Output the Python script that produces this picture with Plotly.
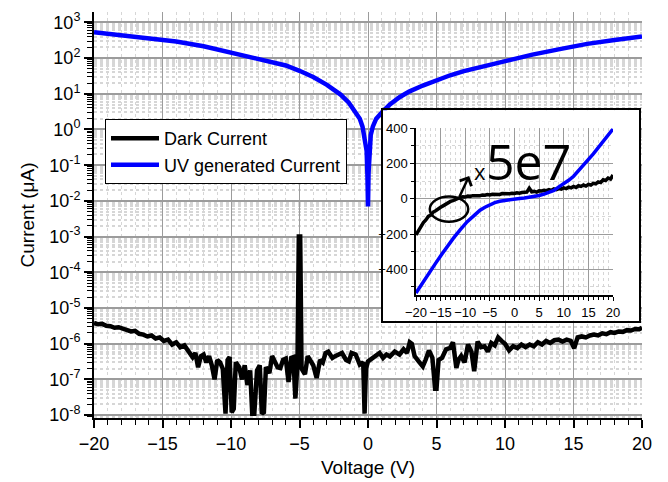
import plotly.graph_objects as go

# ---------------- main chart data (Current in uA vs Voltage in V) ----------------
dark_v = [-20.0, -19.7, -19.4, -19.1, -18.8, -18.5, -18.2, -17.9, -17.6, -17.3, -17.0, -16.7,
          -16.4, -16.1, -15.8, -15.5, -15.2, -14.9, -14.6, -14.3, -14.0, -13.7, -13.4, -13.1,
          -12.8, -12.6, -12.4, -12.2, -12.0, -11.8, -11.6, -11.4, -11.2, -11.0, -10.8, -10.6,
          -10.4, -10.25, -10.1, -9.95, -9.8, -9.65, -9.4, -9.2, -9.0, -8.8, -8.6, -8.45, -8.3,
          -8.1, -7.9, -7.75, -7.6, -7.45, -7.2, -7.0, -6.8, -6.6, -6.4, -6.2, -6.0, -5.8, -5.6,
          -5.45, -5.3, -5.15, -5.05, -4.95, -4.85, -4.6, -4.4, -4.2, -4.0, -3.75, -3.5, -3.3,
          -3.1, -2.9, -2.6, -2.4, -2.1, -1.9, -1.6, -1.4, -1.2, -0.9, -0.6, -0.35, -0.25, -0.15,
          0.0, 0.3, 0.5, 0.85, 1.1, 1.35, 1.6, 1.95, 2.3, 2.6, 2.85, 3.05, 3.2, 3.4, 3.7, 4.0,
          4.2, 4.45, 4.7, 4.9, 5.0, 5.15, 5.4, 5.7, 6.0, 6.2, 6.45, 6.6, 6.8, 7.05, 7.3, 7.55,
          7.75, 8.0, 8.25, 8.5, 8.75, 9.0, 9.25, 9.5, 9.75, 10.0, 10.3, 10.6, 10.9, 11.2, 11.5,
          11.8, 12.1, 12.4, 12.7, 13.0, 13.3, 13.6, 13.9, 14.2, 14.5, 14.8, 15.05, 15.3, 15.6,
          15.9, 16.2, 16.5, 16.8, 17.1, 17.4, 17.7, 18.0, 18.3, 18.6, 18.9, 19.2, 19.5, 19.8, 20.0]
dark_i = [3.8e-6, 3.5e-6, 3.6e-6, 3.2e-6, 3.1e-6, 2.8e-6, 2.9e-6, 2.6e-6, 2.5e-6, 2.2e-6, 2.3e-6, 1.9e-6,
          1.8e-6, 1.6e-6, 1.7e-6, 1.4e-6, 1.5e-6, 1.2e-6, 1.3e-6, 9.5e-7, 1.1e-6, 8.0e-7, 9.0e-7, 6.0e-7,
          4.2e-7, 5.5e-7, 2.2e-7, 4.5e-7, 5.0e-7, 3.0e-7, 4.5e-7, 2.5e-7, 1.0e-7, 3.5e-7, 3.0e-7, 2.0e-7,
          1.1e-8, 3.5e-7, 4.2e-7, 1.2e-8, 1.5e-8, 3.0e-7, 2.2e-7, 1.0e-7, 2.5e-7, 7.0e-8, 1.8e-7, 1.1e-8, 1.1e-8,
          1.8e-7, 2.5e-7, 1.1e-8, 1.2e-8, 2.2e-7, 1.5e-7, 4.5e-7, 3.0e-7, 2.2e-7, 2.1e-7, 3.5e-7, 3.8e-7, 8.5e-8, 4.0e-7,
          4.2e-7, 2.9e-8, 3.0e-7, 1.0e-3, 1.0e-3, 2.0e-7, 1.4e-7, 4.5e-7, 3.5e-7, 2.5e-7, 1.1e-7, 3.5e-7, 3.0e-7,
          5.5e-7, 6.0e-7, 4.0e-7, 4.5e-7, 5.0e-7, 5.5e-7, 3.5e-7, 3.2e-7, 5.5e-7, 5.0e-7, 2.6e-7, 3.0e-7, 1.1e-8, 2.0e-7,
          3.2e-7, 3.8e-7, 4.5e-7, 5.5e-7, 4.0e-7, 5.0e-7, 4.4e-7, 6.0e-7, 5.0e-7, 7.0e-7, 5.5e-7, 1.1e-6, 1.0e-6, 4.5e-7, 3.2e-7, 2.3e-7,
          3.5e-7, 6.5e-7, 4.0e-7, 5.5e-8, 5.5e-8, 3.5e-7, 4.0e-7, 7.0e-7, 7.6e-7, 1.1e-6, 2.1e-7, 3.5e-7, 4.5e-7, 3.0e-7, 9.5e-7, 6.0e-7,
          1.7e-7, 1.15e-6, 8.0e-7, 8.5e-7, 6.0e-7, 1.05e-6, 9.0e-7, 1.5e-6, 1.2e-6, 1.0e-6, 6.5e-7, 8.5e-7, 7.5e-7, 9.5e-7, 8.0e-7,
          9.5e-7, 8.5e-7, 1.1e-6, 9.5e-7, 1.2e-6, 1.05e-6, 1.25e-6, 1.3e-6, 1.15e-6, 1.3e-6, 1.2e-6, 7.5e-7, 1.5e-6, 1.6e-6,
          1.5e-6, 1.7e-6, 1.8e-6, 1.7e-6, 1.95e-6, 1.85e-6, 2.1e-6, 2.0e-6, 2.2e-6, 2.15e-6, 2.4e-6, 2.35e-6, 2.6e-6, 2.55e-6, 2.8e-6]

uv_v = [-20, -18, -16, -15, -14, -12, -10, -8, -6, -5, -4, -3, -2, -1.4, -1, -0.6, -0.4, -0.2,
        -0.1, -0.04, 0, 0.04, 0.1, 0.2, 0.35, 0.6, 1.05, 1.6, 2.3, 3, 4, 5, 6, 7, 8, 10, 12, 14,
        15, 16, 18, 20]
uv_i = [-525, -440, -365, -327, -290, -215, -140, -95, -62, -44, -29.5, -17.8, -9.5, -5.6, -3.5, -2.0,
        -1.2, -0.5, -0.25, -0.05, -0.007, 0.06, 0.3, 0.7, 1.2, 2.0, 3.1, 5.0, 8.0, 11.5, 17, 24,
        33, 43, 54, 83, 125, 178, 215, 250, 320, 400]

# ---------------- inset data (linear scale; dark current shown x 5e7) ----------------
inset_uv_v = [-20, -18, -16, -14.8, -13, -12.4, -11, -9.6, -8, -7, -6, -5, -4, -3, -2, -1, 0, 1,
              2, 3, 4, 5, 6, 7, 8, 9, 10, 11, 12, 13, 14, 15, 16, 17, 18, 19, 20]
inset_uv_i = [-534, -445, -365, -316, -245, -223, -175, -130, -90, -65, -48, -33, -22, -14, -9, -5,
              -1, 2, 5, 9, 14, 19, 27, 36, 48, 68, 85, 105, 128, 158, 190, 222, 255, 290, 325, 360, 396]

inset_dark_v = [-20, -19.5, -19, -18.5, -18, -17.5, -17, -16.5, -16, -15.5, -15, -14.5, -14, -13.5,
                -13, -12.5, -12, -11.5, -11, -10.5, -10, -9.5, -9, -8.5, -8, -7.5, -7, -6.5, -6,
                -5.5, -5, -4.5, -4, -3.5, -3, -2.5, -2, -1.5, -1, -0.5, 0, 0.5, 1, 1.5, 2, 2.5, 3,
                3.5, 4, 4.5, 5, 5.5, 6, 6.5, 7, 7.5, 8, 8.5, 9, 9.5, 10, 10.5, 11, 11.5, 12, 12.5,
                13, 13.5, 14, 14.5, 15, 15.5, 16, 16.5, 17, 17.5, 18, 18.5, 19, 19.5, 20]
inset_dark_i = [-205, -180, -150, -135, -120, -100, -92, -75, -68, -55, -48, -40, -30, -25,
                -15, -10, -3, 5, 8, 12, 10, 16, 14, 18, 17, 20, 18, 22, 20,
                24, 22, 26, 24, 27, 25, 30, 28, 30, 29, 32, 30, 34, 32, 36, 35, 38, 60,
                40, 42, 38, 45, 44, 48, 46, 52, 48, 56, 52, 58, 55, 62, 58, 66, 62, 70, 64,
                74, 70, 78, 72, 82, 78, 88, 85, 96, 92, 108, 104, 118, 112, 135]

decades = list(range(-8, 4))
y_tickvals = [10.0 ** e for e in decades]
y_ticktext = ["10<sup>%d</sup>" % e for e in decades]
y_minorvals = [m * 10.0 ** e for e in range(-9, 4) for m in range(2, 10)]

FONT = "Liberation Sans, Arial, sans-serif"
MAJOR_GRID = "#9c9c9c"
MINOR_GRID = "#d6d6d6"

fig = go.Figure()
fig.add_trace(go.Scatter(x=dark_v, y=dark_i, mode="lines", name="Dark Current",
                         line=dict(color="black", width=4.5)))
fig.add_trace(go.Scatter(x=uv_v, y=[abs(v) for v in uv_i], mode="lines", name="UV generated Current",
                         line=dict(color="#0000ff", width=4.5)))
# frame subplot for the inset (white box)
fig.add_trace(go.Scatter(x=[None], y=[None], xaxis="x2", yaxis="y2", showlegend=False,
                         hoverinfo="skip"))
fig.add_trace(go.Scatter(x=inset_dark_v, y=inset_dark_i, mode="lines", xaxis="x3", yaxis="y3",
                         showlegend=False, line=dict(color="black", width=3.5)))
fig.add_trace(go.Scatter(x=inset_uv_v, y=inset_uv_i, mode="lines", xaxis="x3", yaxis="y3",
                         showlegend=False, line=dict(color="#0000ff", width=3.5)))

W, H = 668, 482
L, R, T, B = 94, 26, 5, 64
pw, ph = W - L - R, H - T - B


def px_x(p):
    return (p - L) / pw


def px_y(p):
    return (H - B - p) / ph


fig.update_layout(
    width=W, height=H,
    margin=dict(l=L, r=R, t=T, b=B),
    paper_bgcolor="white", plot_bgcolor="white",
    font=dict(family=FONT, color="black"),
    showlegend=True,
    legend=dict(x=px_x(105), y=px_y(114), xanchor="left", yanchor="top",
                bgcolor="white", bordercolor="black", borderwidth=1, itemwidth=48,
                font=dict(size=18, family=FONT), tracegroupgap=0),
    xaxis=dict(range=[-20, 20], tick0=0, dtick=5, ticks="outside", ticklen=8, tickwidth=1.5,
               tickcolor="black", showline=True, linecolor="black", linewidth=2,
               showgrid=True, gridcolor=MAJOR_GRID, gridwidth=1, zeroline=False,
               tickfont=dict(size=18),
               minor=dict(dtick=1, ticks="outside", ticklen=5, tickwidth=1.2, tickcolor="black",
                          showgrid=True, gridcolor=MINOR_GRID, griddash="dot"),
               title=dict(text="Voltage (V)", font=dict(size=19), standoff=8)),
    yaxis=dict(type="log", range=[-8.08, 3.29], tickmode="array", tickvals=y_tickvals,
               ticktext=y_ticktext, ticks="outside", ticklen=8, tickwidth=1.5, tickcolor="black",
               showline=True, linecolor="black", linewidth=2,
               showgrid=True, gridcolor=MAJOR_GRID, gridwidth=1.5, zeroline=False,
               tickfont=dict(size=18),
               minor=dict(tickmode="array", tickvals=y_minorvals, ticks="outside", ticklen=5,
                          tickwidth=1, tickcolor="black", showgrid=True, gridcolor=MINOR_GRID,
                          griddash="dot"),
               title=dict(text="Current (μA)", font=dict(size=19), standoff=10)),
    xaxis2=dict(domain=[px_x(383), px_x(639)], range=[0, 1], anchor="y2", showline=True,
                mirror=True, linecolor="black", linewidth=1.5, showgrid=False, zeroline=False,
                showticklabels=False, ticks="", fixedrange=True),
    yaxis2=dict(domain=[px_y(319), px_y(105)], range=[0, 1], anchor="x2", showline=True,
                mirror=True, linecolor="black", linewidth=1.5, showgrid=False, zeroline=False,
                showticklabels=False, ticks="", fixedrange=True),
    xaxis3=dict(domain=[px_x(416), px_x(613)], range=[-20, 20], anchor="y3", tick0=0, dtick=5,
                ticks="outside", ticklen=4, tickcolor="black", showline=True, linecolor="black",
                linewidth=1.5, showgrid=True, gridcolor=MAJOR_GRID, gridwidth=1, zeroline=False,
                tickfont=dict(size=13),
                minor=dict(dtick=1, ticks="outside", ticklen=3, tickcolor="black",
                           showgrid=True, gridcolor=MINOR_GRID, griddash="dot")),
    yaxis3=dict(domain=[px_y(293.3), px_y(123.3)], range=[-548, 400], anchor="x3",
                tickmode="array", tickvals=[-400, -200, 0, 200, 400],
                ticks="outside", ticklen=4, tickcolor="black", showline=True, linecolor="black",
                linewidth=1.5, showgrid=True, gridcolor=MAJOR_GRID, gridwidth=1, zeroline=False,
                tickfont=dict(size=13),
                minor=dict(tickmode="array", tickvals=[-500, -300, -100, 100, 300],
                           ticks="outside", ticklen=3, tickcolor="black",
                           showgrid=True, gridcolor=MINOR_GRID, griddash="dot")),
    shapes=[dict(type="circle", xref="x3", yref="y3", x0=-17.2, x1=-9.4, y0=-130, y1=13,
                 line=dict(color="black", width=2.5), layer="above")],
    annotations=[
        dict(x=-9.2, y=130, xref="x3", yref="y3", ax=-11.3, ay=5, axref="x3", ayref="y3",
             showarrow=True, arrowhead=4, arrowsize=1, arrowwidth=2.5, arrowcolor="black",
             text=""),
        dict(x=-7.0, y=160, xref="x3", yref="y3", text="x", showarrow=False,
             font=dict(family="Open Sans", size=22, color="black")),
        dict(x=2.9, y=212, xref="x3", yref="y3", text="5e7", showarrow=False,
             font=dict(family="Open Sans", size=50, color="black")),
    ],
)

fig.write_html("out.html", config={"displayModeBar": False},
               post_script="document.body.style.margin='0';")
